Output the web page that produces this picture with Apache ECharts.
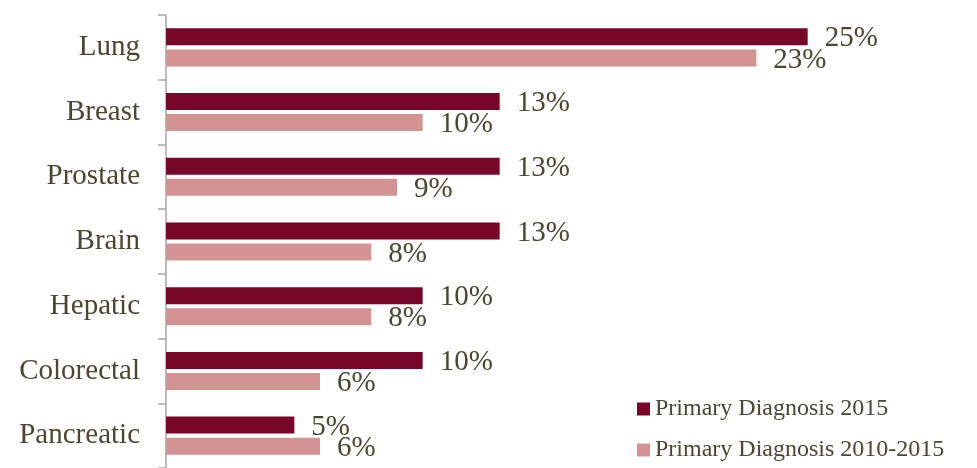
<!DOCTYPE html>
<html>
<head>
<meta charset="utf-8">
<style>
  html, body { margin: 0; padding: 0; background: #ffffff; }
  #chart { width: 977px; height: 468px; }
</style>
<script src="https://cdn.jsdelivr.net/npm/echarts@6/dist/echarts.min.js"></script>
</head>
<body>
<div id="chart"></div>
<script>
// Cancer types, top to bottom
const categories = ['Lung', 'Breast', 'Prostate', 'Brain', 'Hepatic', 'Colorectal', 'Pancreatic'];
// Share of cases by primary diagnosis (%)
const diag2015 = [25, 13, 13, 13, 10, 10, 5];
const diag2010to2015 = [23, 10, 9, 8, 8, 6, 6];
const seriesNames = ['Primary Diagnosis 2015', 'Primary Diagnosis 2010-2015'];

const textColor = '#4b4632';
const fontFamily = '"Liberation Serif", "DejaVu Serif", serif';

const chart = echarts.init(document.getElementById('chart'));

const labelStyle = {
  show: true,
  position: 'right',
  distance: 17,
  formatter: p => p.value + '%',
  color: textColor,
  fontFamily: fontFamily,
  fontSize: 29,
  offset: [0, 2]
};

chart.setOption({
  animation: false,
  backgroundColor: '#ffffff',
  grid: { left: 166, top: 15, width: 770, height: 455 },
  xAxis: {
    type: 'value',
    min: 0,
    max: 30,
    show: false
  },
  yAxis: {
    type: 'category',
    data: categories,
    inverse: true,
    axisLine: { show: true, lineStyle: { color: '#a6a6a6', width: 1.5 } },
    axisTick: { show: true, length: 8, lineStyle: { color: '#a6a6a6', width: 1.5 } },
    axisLabel: { color: textColor, fontFamily: fontFamily, fontSize: 29, margin: 26 },
    splitLine: { show: false }
  },
  legend: {
    orient: 'vertical',
    left: 632,
    top: 392,
    icon: 'rect',
    itemWidth: 13,
    itemHeight: 13,
    itemGap: 17,
    textStyle: { color: textColor, fontFamily: fontFamily, fontSize: 24 },
    data: seriesNames
  },
  series: [
    {
      name: seriesNames[0],
      type: 'bar',
      data: diag2015,
      barWidth: 17,
      barGap: '24%',
      itemStyle: { color: '#780628' },
      label: labelStyle
    },
    {
      name: seriesNames[1],
      type: 'bar',
      data: diag2010to2015,
      barWidth: 17,
      barGap: '24%',
      itemStyle: { color: '#d39393' },
      label: labelStyle
    }
  ]
});
</script>
</body>
</html>
